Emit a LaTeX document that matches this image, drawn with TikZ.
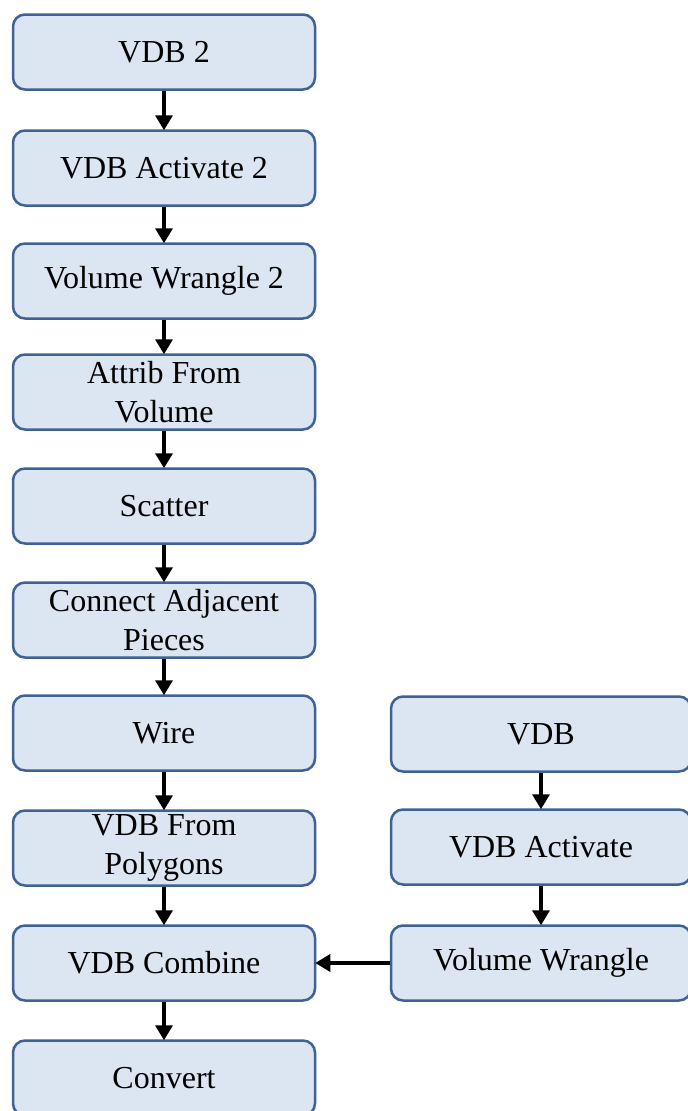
\documentclass[tikz,border=0pt]{standalone}
\usepackage{fontspec}
\setmainfont{Liberation Serif}
\usetikzlibrary{arrows.meta}
\definecolor{boxfill}{HTML}{DCE6F2}
\definecolor{boxline}{HTML}{3E6196}
\begin{document}
\begin{tikzpicture}[x=1pt,y=-1pt,
  flowbox/.style={draw=boxline, fill=boxfill, line width=2.5pt, rounded corners=12pt,
    minimum width=302pt, minimum height=75pt, inner sep=0pt, align=center,
    font=\fontsize{32}{39}\selectfont},
  flowarrow/.style={line width=3.5pt, -{Triangle[length=15pt,width=17pt]}, shorten >=-1pt}]
\useasboundingbox (0,0) rectangle (688,1111);
\node[flowbox] (a1) at (164,52) {VDB 2};
\node[flowbox] (a2) at (164,168) {VDB Activate 2};
\node[flowbox] (a3) at (164,281) {Volume Wrangle 2};
\node[flowbox] (a4) at (164,392) {Attrib From\\Volume};
\node[flowbox] (a5) at (164,506) {Scatter};
\node[flowbox] (a6) at (164,620) {Connect Adjacent\\Pieces};
\node[flowbox] (a7) at (164,733) {Wire};
\node[flowbox] (a8) at (164,848) {VDB From\\Polygons};
\node[flowbox] (a9) at (164,963) {VDB Combine};
\node[flowbox] (a10) at (164,1078) {Convert};
\node[flowbox, minimum width=300pt] (b1) at (541,734) {VDB};
\node[flowbox, minimum width=300pt] (b2) at (541,847) {VDB Activate};
\node[flowbox, minimum width=300pt] (b3) at (541,963) {Volume Wrangle};
\foreach \i/\j in {a1/a2,a2/a3,a3/a4,a4/a5,a5/a6,a6/a7,a7/a8,a8/a9,a9/a10,b1/b2,b2/b3}
  \draw[flowarrow] (\i) -- (\j);
\draw[flowarrow] (b3) -- (a9);
\end{tikzpicture}
\end{document}
